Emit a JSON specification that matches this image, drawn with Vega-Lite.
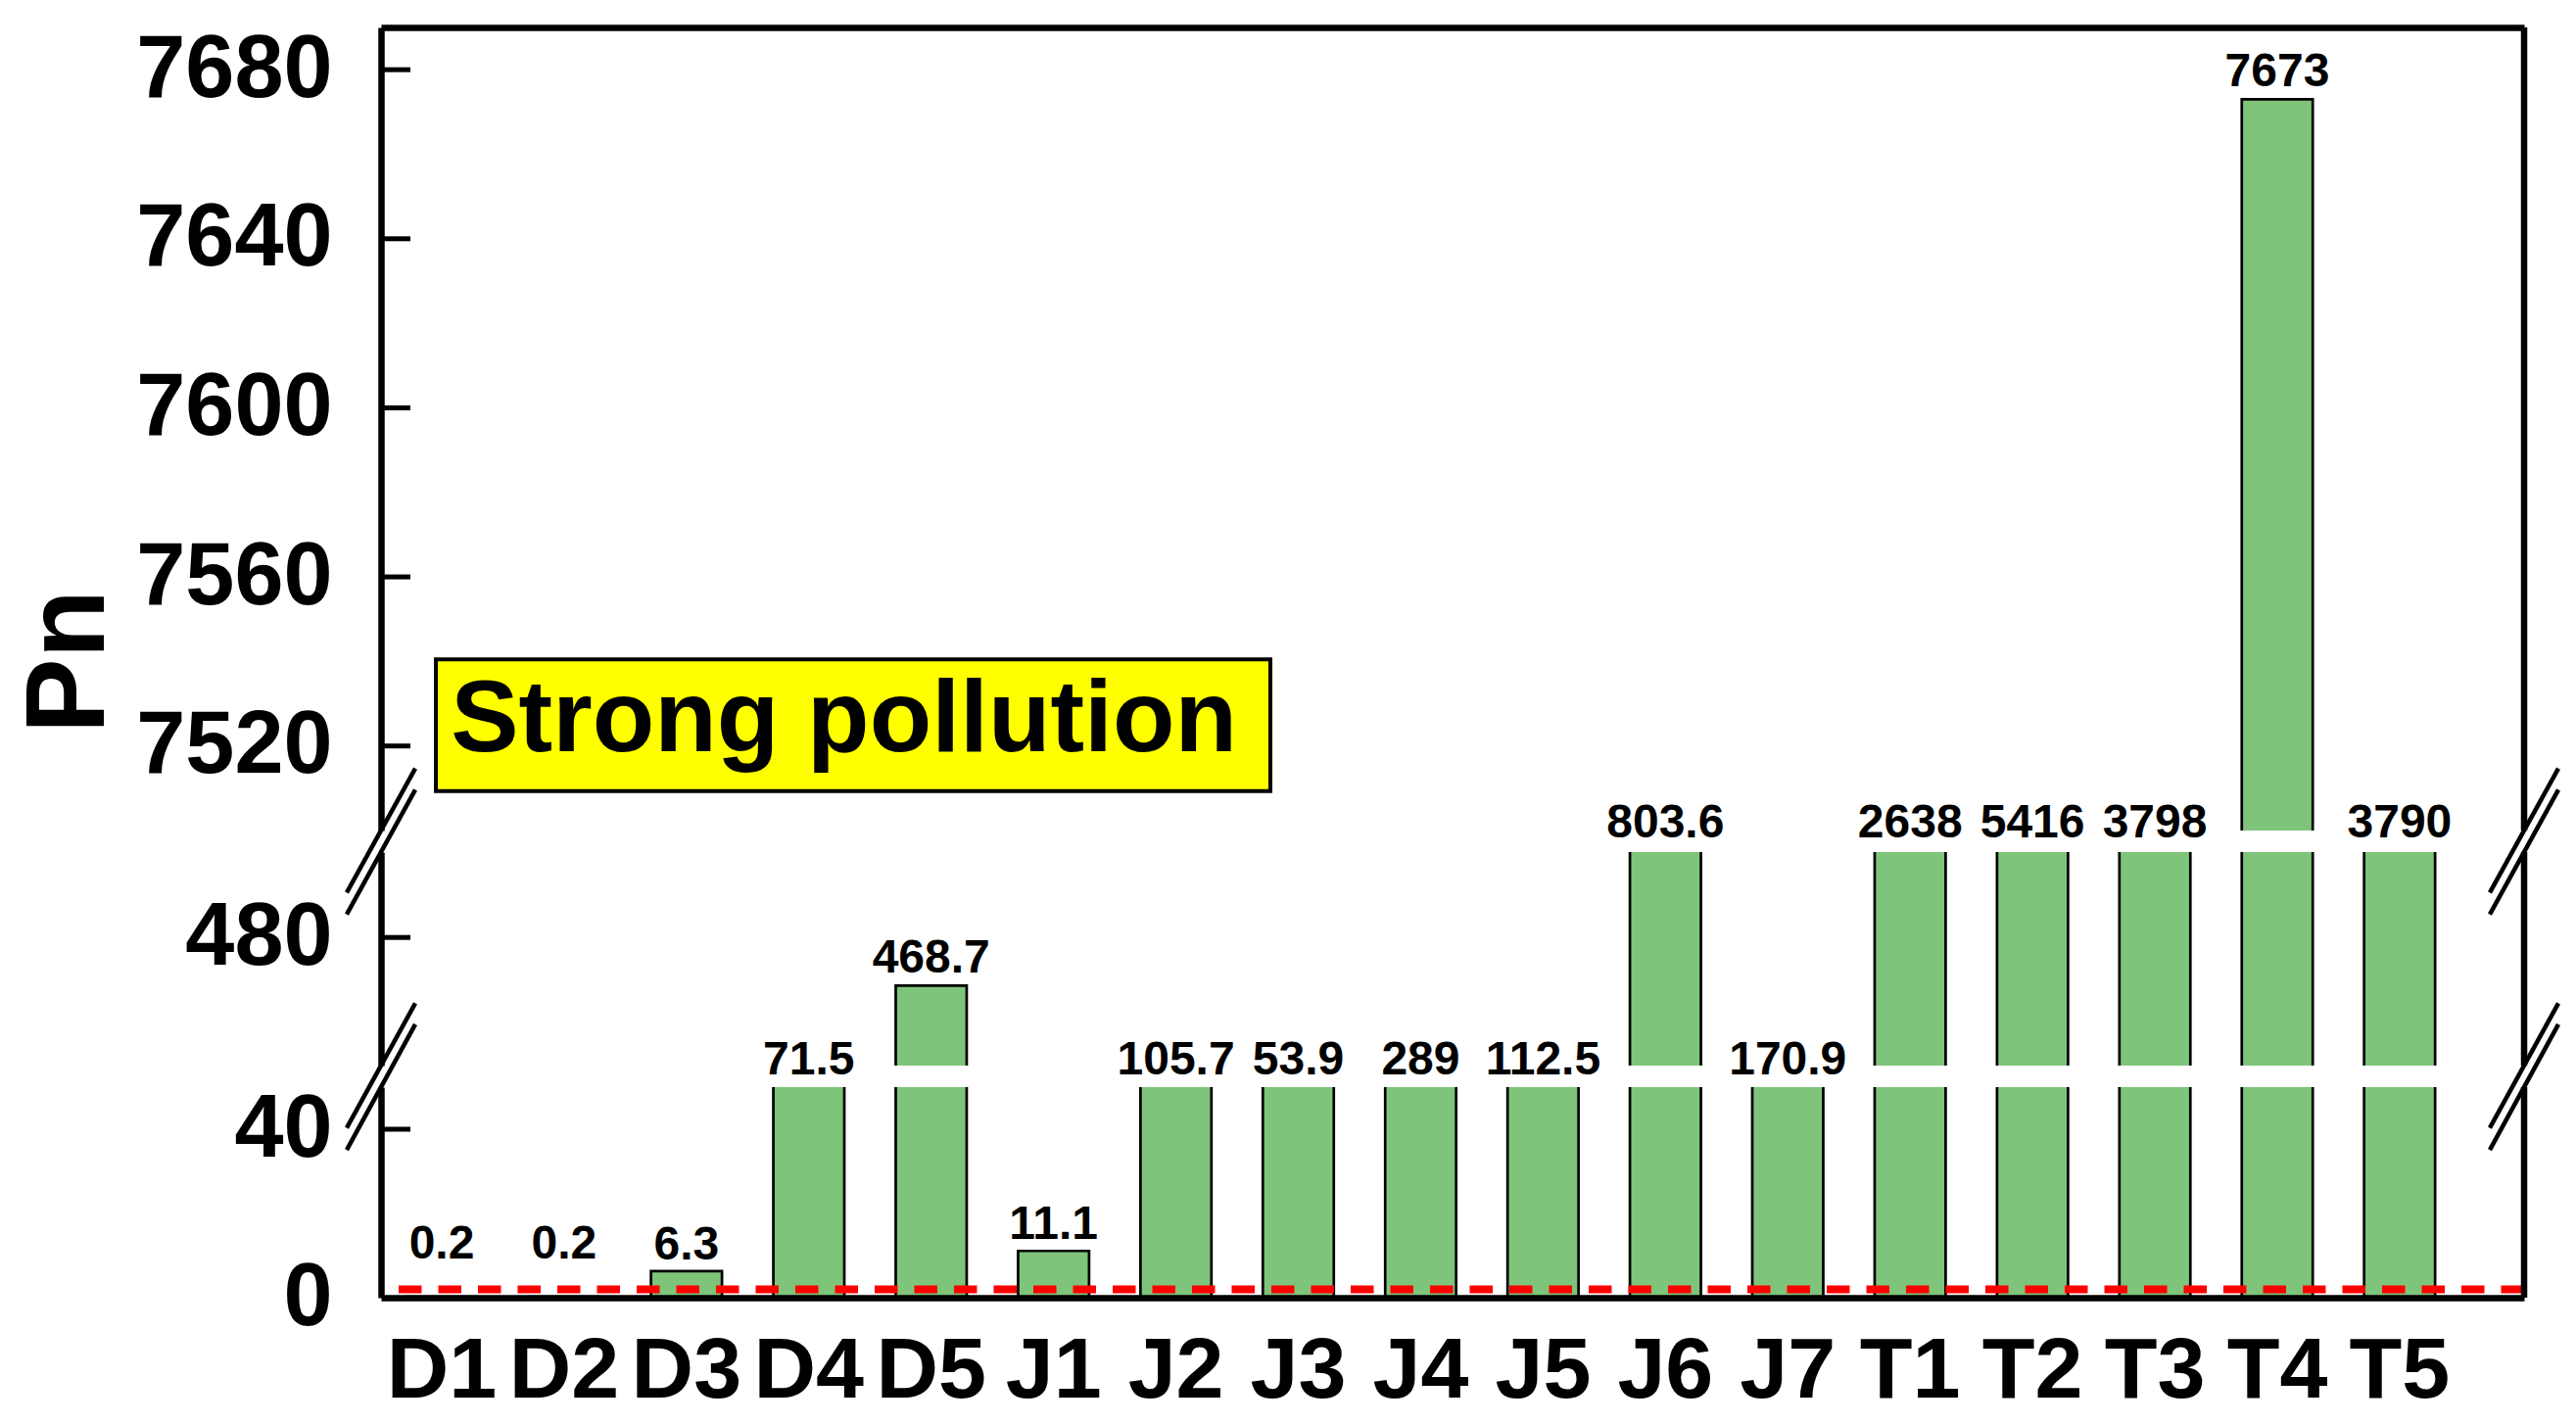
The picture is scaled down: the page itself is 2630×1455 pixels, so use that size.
{
  "$schema": "https://vega.github.io/schema/vega-lite/v6.json",
  "padding": {"left": 13, "top": 24, "right": 0, "bottom": 0},
  "background": "white",
  "config": {"view": {"stroke": null}, "font": "Liberation Sans"},
  "data": {"values": [
    {"Site": "D1", "Pn": 0.2}, {"Site": "D2", "Pn": 0.2}, {"Site": "D3", "Pn": 6.3},
    {"Site": "D4", "Pn": 71.5}, {"Site": "D5", "Pn": 468.7}, {"Site": "J1", "Pn": 11.1},
    {"Site": "J2", "Pn": 105.7}, {"Site": "J3", "Pn": 53.9}, {"Site": "J4", "Pn": 289},
    {"Site": "J5", "Pn": 112.5}, {"Site": "J6", "Pn": 803.6}, {"Site": "J7", "Pn": 170.9},
    {"Site": "T1", "Pn": 2638}, {"Site": "T2", "Pn": 5416}, {"Site": "T3", "Pn": 3798},
    {"Site": "T4", "Pn": 7673}, {"Site": "T5", "Pn": 3790}
  ]},
  "spacing": 22,
  "bounds": "flush",
  "vconcat": [
    {
      "width": 2188, "height": 820,
      "resolve": {"scale": {"x": "independent"}, "axis": {"y": "independent"}},
      "layer": [
        {
          "mark": {"type": "bar", "clip": true, "fill": "#7fc47b", "stroke": "black", "strokeWidth": 2.7},
          "encoding": {
            "x": {"field": "Site", "type": "nominal", "sort": null,
              "scale": {"type": "band", "domain": ["D1","D2","D3","D4","D5","J1","J2","J3","J4","J5","J6","J7","T1","T2","T3","T4","T5"], "paddingInner": 0.42, "paddingOuter": 0.4668, "align": 0.221},
              "axis": {"orient": "top", "labels": false, "ticks": false, "title": null, "domainWidth": 6.5, "domainColor": "black", "zindex": 1}},
            "y": {"field": "Pn", "type": "quantitative", "scale": {"domain": [7500, 7690]},
              "axis": {"orient": "left", "values": [7520, 7560, 7600, 7640, 7680], "format": "d", "ticks": false, "labelFontSize": 90, "labelFontWeight": "bold", "labelColor": "black", "labelPadding": 50, "labelLimit": 0, "domainWidth": 6.5, "domainColor": "black", "grid": false, "zindex": 1,
                "title": "Pn", "titleFontSize": 115, "titleFontWeight": "bold", "titleColor": "black", "titleAngle": 270, "titleX": -284, "titleY": 647, "titleAlign": "center", "titleBaseline": "alphabetic"}}
          }
        },
        {
          "transform": [{"filter": "datum.Pn >= 7500"}],
          "mark": {"type": "text", "dy": -13, "baseline": "alphabetic", "align": "center", "fontSize": 48, "fontWeight": "bold", "color": "black"},
          "encoding": {
            "x": {"field": "Site", "type": "nominal", "sort": null, "scale": {"type": "band", "domain": ["D1","D2","D3","D4","D5","J1","J2","J3","J4","J5","J6","J7","T1","T2","T3","T4","T5"], "paddingInner": 0.42, "paddingOuter": 0.4668, "align": 0.221}, "axis": null},
            "y": {"field": "Pn", "type": "quantitative", "scale": {"domain": [7500, 7690]}, "axis": null},
            "text": {"field": "Pn", "type": "nominal"}
          }
        },
        {"data": {"values": [{}]}, "mark": {"type": "rule", "strokeWidth": 5, "color": "black"},
         "encoding": {"x": {"datum": 0, "type": "quantitative", "scale": {"domain": [0, 1]}, "axis": null}, "x2": {"datum": 0.0137},
           "y": {"datum": 7520, "type": "quantitative", "scale": {"domain": [7500, 7690]}, "axis": null}}},
        {"data": {"values": [{}]}, "mark": {"type": "rule", "strokeWidth": 5, "color": "black"},
         "encoding": {"x": {"datum": 0, "type": "quantitative", "scale": {"domain": [0, 1]}, "axis": null}, "x2": {"datum": 0.0137},
           "y": {"datum": 7560, "type": "quantitative", "scale": {"domain": [7500, 7690]}, "axis": null}}},
        {"data": {"values": [{}]}, "mark": {"type": "rule", "strokeWidth": 5, "color": "black"},
         "encoding": {"x": {"datum": 0, "type": "quantitative", "scale": {"domain": [0, 1]}, "axis": null}, "x2": {"datum": 0.0137},
           "y": {"datum": 7600, "type": "quantitative", "scale": {"domain": [7500, 7690]}, "axis": null}}},
        {"data": {"values": [{}]}, "mark": {"type": "rule", "strokeWidth": 5, "color": "black"},
         "encoding": {"x": {"datum": 0, "type": "quantitative", "scale": {"domain": [0, 1]}, "axis": null}, "x2": {"datum": 0.0137},
           "y": {"datum": 7640, "type": "quantitative", "scale": {"domain": [7500, 7690]}, "axis": null}}},
        {"data": {"values": [{}]}, "mark": {"type": "rule", "strokeWidth": 5, "color": "black"},
         "encoding": {"x": {"datum": 0, "type": "quantitative", "scale": {"domain": [0, 1]}, "axis": null}, "x2": {"datum": 0.0137},
           "y": {"datum": 7680, "type": "quantitative", "scale": {"domain": [7500, 7690]}, "axis": null}}},
        {"data": {"values": [{}]}, "mark": {"type": "rule", "strokeWidth": 4.5, "color": "black"},
         "encoding": {"x": {"datum": -0.016, "type": "quantitative", "scale": {"domain": [0, 1]}, "axis": null}, "x2": {"datum": 0.016},
           "y": {"datum": 7485.3, "type": "quantitative", "scale": {"domain": [7500, 7690]}, "axis": null}, "y2": {"datum": 7514.7}}},
        {"data": {"values": [{}]}, "mark": {"type": "rule", "strokeWidth": 4.5, "color": "black"},
         "encoding": {"x": {"datum": 0.984, "type": "quantitative", "scale": {"domain": [0, 1]}, "axis": null}, "x2": {"datum": 1.016},
           "y": {"datum": 7485.3, "type": "quantitative", "scale": {"domain": [7500, 7690]}, "axis": null}, "y2": {"datum": 7514.7}}},
        {"data": {"values": [{}]}, "mark": {"type": "rule", "strokeWidth": 6.5, "color": "black"},
         "encoding": {"x": {"datum": 1, "type": "quantitative", "scale": {"domain": [0, 1]}, "axis": null}}},
        {"data": {"values": [{}]}, "mark": {"type": "rect", "fill": "#ffff00", "stroke": "black", "strokeWidth": 4},
         "encoding": {"x": {"datum": 0.0256, "type": "quantitative", "scale": {"domain": [0, 1]}, "axis": null}, "x2": {"datum": 0.415},
           "y": {"datum": 7509.3, "type": "quantitative", "scale": {"domain": [7500, 7690]}, "axis": null}, "y2": {"datum": 7540.5}}},
        {"data": {"values": [{}]}, "mark": {"type": "text", "text": "Strong pollution", "fontSize": 104, "fontWeight": "bold", "baseline": "alphabetic", "align": "center", "color": "black"},
         "encoding": {"x": {"datum": 0.216, "type": "quantitative", "scale": {"domain": [0, 1]}, "axis": null},
           "y": {"datum": 7518.8, "type": "quantitative", "scale": {"domain": [7500, 7690]}, "axis": null}}}
      ]
    },
    {
      "width": 2188, "height": 218,
      "resolve": {"scale": {"x": "independent"}, "axis": {"y": "independent"}},
      "layer": [
        {
          "mark": {"type": "bar", "clip": true, "fill": "#7fc47b", "stroke": "black", "strokeWidth": 2.7},
          "encoding": {
            "x": {"field": "Site", "type": "nominal", "sort": null,
              "scale": {"type": "band", "domain": ["D1","D2","D3","D4","D5","J1","J2","J3","J4","J5","J6","J7","T1","T2","T3","T4","T5"], "paddingInner": 0.42, "paddingOuter": 0.4668, "align": 0.221},
              "axis": null},
            "y": {"field": "Pn", "type": "quantitative", "scale": {"domain": [450, 500]},
              "axis": {"orient": "left", "values": [480], "format": "d", "ticks": false, "labelFontSize": 90, "labelFontWeight": "bold", "labelColor": "black", "labelPadding": 50, "labelLimit": 0, "domainWidth": 6.5, "domainColor": "black", "grid": false, "zindex": 1, "title": null}}
          }
        },
        {
          "transform": [{"filter": "datum.Pn >= 450 && datum.Pn <= 500"}],
          "mark": {"type": "text", "dy": -13, "baseline": "alphabetic", "align": "center", "fontSize": 48, "fontWeight": "bold", "color": "black"},
          "encoding": {
            "x": {"field": "Site", "type": "nominal", "sort": null, "scale": {"type": "band", "domain": ["D1","D2","D3","D4","D5","J1","J2","J3","J4","J5","J6","J7","T1","T2","T3","T4","T5"], "paddingInner": 0.42, "paddingOuter": 0.4668, "align": 0.221}, "axis": null},
            "y": {"field": "Pn", "type": "quantitative", "scale": {"domain": [450, 500]}, "axis": null},
            "text": {"field": "Pn", "type": "nominal"}
          }
        },
        {
          "transform": [{"filter": "datum.Pn > 500 && datum.Pn < 7500"}],
          "mark": {"type": "text", "dy": -15, "baseline": "alphabetic", "align": "center", "fontSize": 48, "fontWeight": "bold", "color": "black"},
          "encoding": {
            "x": {"field": "Site", "type": "nominal", "sort": null, "scale": {"type": "band", "domain": ["D1","D2","D3","D4","D5","J1","J2","J3","J4","J5","J6","J7","T1","T2","T3","T4","T5"], "paddingInner": 0.42, "paddingOuter": 0.4668, "align": 0.221}, "axis": null},
            "y": {"datum": 500, "type": "quantitative", "scale": {"domain": [450, 500]}, "axis": null},
            "text": {"field": "Pn", "type": "nominal"}
          }
        },
        {"data": {"values": [{}]}, "mark": {"type": "rule", "strokeWidth": 5, "color": "black"},
         "encoding": {"x": {"datum": 0, "type": "quantitative", "scale": {"domain": [0, 1]}, "axis": null}, "x2": {"datum": 0.0137},
           "y": {"datum": 480, "type": "quantitative", "scale": {"domain": [450, 500]}, "axis": null}}},
        {"data": {"values": [{}]}, "mark": {"type": "rule", "strokeWidth": 4.5, "color": "black"},
         "encoding": {"x": {"datum": -0.016, "type": "quantitative", "scale": {"domain": [0, 1]}, "axis": null}, "x2": {"datum": 0.016},
           "y": {"datum": 485.4, "type": "quantitative", "scale": {"domain": [450, 500]}, "axis": null}, "y2": {"datum": 514.6}}},
        {"data": {"values": [{}]}, "mark": {"type": "rule", "strokeWidth": 4.5, "color": "black"},
         "encoding": {"x": {"datum": 0.984, "type": "quantitative", "scale": {"domain": [0, 1]}, "axis": null}, "x2": {"datum": 1.016},
           "y": {"datum": 485.4, "type": "quantitative", "scale": {"domain": [450, 500]}, "axis": null}, "y2": {"datum": 514.6}}},
        {"data": {"values": [{}]}, "mark": {"type": "rule", "strokeWidth": 4.5, "color": "black"},
         "encoding": {"x": {"datum": -0.016, "type": "quantitative", "scale": {"domain": [0, 1]}, "axis": null}, "x2": {"datum": 0.016},
           "y": {"datum": 435.4, "type": "quantitative", "scale": {"domain": [450, 500]}, "axis": null}, "y2": {"datum": 464.6}}},
        {"data": {"values": [{}]}, "mark": {"type": "rule", "strokeWidth": 4.5, "color": "black"},
         "encoding": {"x": {"datum": 0.984, "type": "quantitative", "scale": {"domain": [0, 1]}, "axis": null}, "x2": {"datum": 1.016},
           "y": {"datum": 435.4, "type": "quantitative", "scale": {"domain": [450, 500]}, "axis": null}, "y2": {"datum": 464.6}}},
        {"data": {"values": [{}]}, "mark": {"type": "rule", "strokeWidth": 6.5, "color": "black"},
         "encoding": {"x": {"datum": 1, "type": "quantitative", "scale": {"domain": [0, 1]}, "axis": null}}}
      ]
    },
    {
      "width": 2188, "height": 215,
      "resolve": {"scale": {"x": "independent"}, "axis": {"y": "independent"}},
      "layer": [
        {
          "mark": {"type": "bar", "clip": true, "fill": "#7fc47b", "stroke": "black", "strokeWidth": 2.7},
          "encoding": {
            "x": {"field": "Site", "type": "nominal", "sort": null,
              "scale": {"type": "band", "domain": ["D1","D2","D3","D4","D5","J1","J2","J3","J4","J5","J6","J7","T1","T2","T3","T4","T5"], "paddingInner": 0.42, "paddingOuter": 0.4668, "align": 0.221},
              "axis": {"orient": "bottom", "labelFontSize": 88, "labelFontWeight": "bold", "labelColor": "black", "labelPadding": 31, "labelAngle": 0, "labelOverlap": false, "labelLimit": 0, "ticks": false, "title": null, "domainWidth": 6.5, "domainColor": "black", "zindex": 1}},
            "y": {"field": "Pn", "type": "quantitative", "scale": {"domain": [0, 50]},
              "axis": {"orient": "left", "values": [0, 40], "format": "d", "ticks": false, "labelFontSize": 90, "labelFontWeight": "bold", "labelColor": "black", "labelPadding": 50, "labelLimit": 0, "domainWidth": 6.5, "domainColor": "black", "grid": false, "zindex": 1, "title": null}}
          }
        },
        {
          "data": {"values": [{}]},
          "mark": {"type": "rule", "color": "#ff0000", "strokeWidth": 8, "strokeDash": [23.5, 17]},
          "encoding": {"y": {"datum": 2, "type": "quantitative", "scale": {"domain": [0, 50]}, "axis": null}}
        },
        {
          "transform": [{"filter": "datum.Pn < 1"}],
          "mark": {"type": "text", "dy": -13, "baseline": "alphabetic", "align": "center", "fontSize": 48, "fontWeight": "bold", "color": "black"},
          "encoding": {
            "x": {"field": "Site", "type": "nominal", "sort": null, "scale": {"type": "band", "domain": ["D1","D2","D3","D4","D5","J1","J2","J3","J4","J5","J6","J7","T1","T2","T3","T4","T5"], "paddingInner": 0.42, "paddingOuter": 0.4668, "align": 0.221}, "axis": null},
            "y": {"datum": 6.3, "type": "quantitative", "scale": {"domain": [0, 50]}, "axis": null},
            "text": {"field": "Pn", "type": "nominal"}
          }
        },
        {
          "transform": [{"filter": "datum.Pn >= 1 && datum.Pn <= 50"}],
          "mark": {"type": "text", "dy": -12, "baseline": "alphabetic", "align": "center", "fontSize": 48, "fontWeight": "bold", "color": "black"},
          "encoding": {
            "x": {"field": "Site", "type": "nominal", "sort": null, "scale": {"type": "band", "domain": ["D1","D2","D3","D4","D5","J1","J2","J3","J4","J5","J6","J7","T1","T2","T3","T4","T5"], "paddingInner": 0.42, "paddingOuter": 0.4668, "align": 0.221}, "axis": null},
            "y": {"field": "Pn", "type": "quantitative", "scale": {"domain": [0, 50]}, "axis": null},
            "text": {"field": "Pn", "type": "nominal"}
          }
        },
        {
          "transform": [{"filter": "datum.Pn > 50 && datum.Pn < 450"}],
          "mark": {"type": "text", "dy": -13, "baseline": "alphabetic", "align": "center", "fontSize": 48, "fontWeight": "bold", "color": "black"},
          "encoding": {
            "x": {"field": "Site", "type": "nominal", "sort": null, "scale": {"type": "band", "domain": ["D1","D2","D3","D4","D5","J1","J2","J3","J4","J5","J6","J7","T1","T2","T3","T4","T5"], "paddingInner": 0.42, "paddingOuter": 0.4668, "align": 0.221}, "axis": null},
            "y": {"datum": 50, "type": "quantitative", "scale": {"domain": [0, 50]}, "axis": null},
            "text": {"field": "Pn", "type": "nominal"}
          }
        },
        {"data": {"values": [{}]}, "mark": {"type": "rule", "strokeWidth": 5, "color": "black"},
         "encoding": {"x": {"datum": 0, "type": "quantitative", "scale": {"domain": [0, 1]}, "axis": null}, "x2": {"datum": 0.0137},
           "y": {"datum": 40, "type": "quantitative", "scale": {"domain": [0, 50]}, "axis": null}}},
        {"data": {"values": [{}]}, "mark": {"type": "rule", "strokeWidth": 4.5, "color": "black"},
         "encoding": {"x": {"datum": -0.016, "type": "quantitative", "scale": {"domain": [0, 1]}, "axis": null}, "x2": {"datum": 0.016},
           "y": {"datum": 35.1, "type": "quantitative", "scale": {"domain": [0, 50]}, "axis": null}, "y2": {"datum": 64.9}}},
        {"data": {"values": [{}]}, "mark": {"type": "rule", "strokeWidth": 4.5, "color": "black"},
         "encoding": {"x": {"datum": 0.984, "type": "quantitative", "scale": {"domain": [0, 1]}, "axis": null}, "x2": {"datum": 1.016},
           "y": {"datum": 35.1, "type": "quantitative", "scale": {"domain": [0, 50]}, "axis": null}, "y2": {"datum": 64.9}}},
        {"data": {"values": [{}]}, "mark": {"type": "rule", "strokeWidth": 6.5, "color": "black"},
         "encoding": {"x": {"datum": 1, "type": "quantitative", "scale": {"domain": [0, 1]}, "axis": null}}}
      ]
    }
  ]
}
